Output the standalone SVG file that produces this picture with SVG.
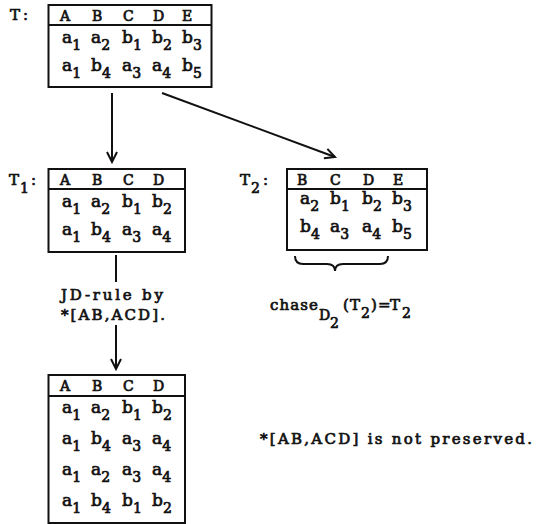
<svg xmlns="http://www.w3.org/2000/svg" width="536" height="524" viewBox="0 0 536 524">
<defs>
<style>
.t{font-family:"DejaVu Serif","Liberation Serif",serif;fill:#111;stroke:#111;stroke-width:0.7}
.h{font-size:14px}
.c{font-size:17px}
.s{font-size:14px}
.b{font-size:15px}
.box{fill:none;stroke:#111;stroke-width:2}
.ln{fill:none;stroke:#111;stroke-width:2}
</style>
<marker id="ah" markerUnits="userSpaceOnUse" markerWidth="14" markerHeight="14" refX="12" refY="7" orient="auto">
<path d="M2,2 L12,7 L2,12" fill="none" stroke="#111" stroke-width="2"/>
</marker>
</defs>
<rect width="536" height="524" fill="#fff"/>

<g id="T">
<text class="t b" x="10" y="20">T</text><text class="t b" x="23" y="20">:</text>
<rect class="box" x="48.5" y="5" width="163" height="82"/>
<line class="ln" x1="48.5" y1="25" x2="211.5" y2="25"/>
<g class="t h"><text x="60" y="21">A</text><text x="92" y="21">B</text><text x="123" y="21">C</text><text x="153" y="21">D</text><text x="182" y="21">E</text></g>
<g class="t c">
<text x="62" y="43">a<tspan class="s" dy="7">1</tspan></text>
<text x="91" y="43">a<tspan class="s" dy="7">2</tspan></text>
<text x="122" y="43">b<tspan class="s" dy="7">1</tspan></text>
<text x="152" y="43">b<tspan class="s" dy="7">2</tspan></text>
<text x="182" y="43">b<tspan class="s" dy="7">3</tspan></text>
<text x="62" y="71">a<tspan class="s" dy="7">1</tspan></text>
<text x="91" y="71">b<tspan class="s" dy="7">4</tspan></text>
<text x="122" y="71">a<tspan class="s" dy="7">3</tspan></text>
<text x="152" y="71">a<tspan class="s" dy="7">4</tspan></text>
<text x="182" y="71">b<tspan class="s" dy="7">5</tspan></text>
</g>
</g>

<g id="T1">
<text class="t b" x="9" y="185">T</text><text class="t s" x="20" y="193">1</text><text class="t b" x="31" y="185">:</text>
<rect class="box" x="48.5" y="169" width="136.5" height="83"/>
<line class="ln" x1="48.5" y1="189" x2="185" y2="189"/>
<g class="t h"><text x="60" y="185">A</text><text x="92" y="185">B</text><text x="123" y="185">C</text><text x="153" y="185">D</text></g>
<g class="t c">
<text x="62" y="207">a<tspan class="s" dy="7">1</tspan></text>
<text x="91" y="207">a<tspan class="s" dy="7">2</tspan></text>
<text x="122" y="207">b<tspan class="s" dy="7">1</tspan></text>
<text x="152" y="207">b<tspan class="s" dy="7">2</tspan></text>
<text x="62" y="235">a<tspan class="s" dy="7">1</tspan></text>
<text x="91" y="235">b<tspan class="s" dy="7">4</tspan></text>
<text x="122" y="235">a<tspan class="s" dy="7">3</tspan></text>
<text x="152" y="235">a<tspan class="s" dy="7">4</tspan></text>
</g>
</g>

<g id="T2">
<text class="t b" x="240" y="185">T</text><text class="t s" x="251" y="193">2</text><text class="t b" x="263" y="185">:</text>
<rect class="box" x="287" y="169" width="140" height="81"/>
<line class="ln" x1="287" y1="189" x2="427" y2="189"/>
<g class="t h"><text x="297" y="185">B</text><text x="330" y="185">C</text><text x="363" y="185">D</text><text x="393" y="185">E</text></g>
<g class="t c">
<text x="300" y="204">a<tspan class="s" dy="7">2</tspan></text>
<text x="330" y="204">b<tspan class="s" dy="7">1</tspan></text>
<text x="362" y="204">b<tspan class="s" dy="7">2</tspan></text>
<text x="392" y="204">b<tspan class="s" dy="7">3</tspan></text>
<text x="300" y="232">b<tspan class="s" dy="7">4</tspan></text>
<text x="330" y="232">a<tspan class="s" dy="7">3</tspan></text>
<text x="362" y="232">a<tspan class="s" dy="7">4</tspan></text>
<text x="392" y="232">b<tspan class="s" dy="7">5</tspan></text>
</g>
</g>

<g id="chase">
<path class="ln" d="M295,256 Q295,264 303,264 L327,264 Q335,264 335,271 Q335,264 343,264 L380,264 Q388,264 388,256"/>
<g class="t b">
<text x="270" y="310" textLength="48" lengthAdjust="spacing">chase</text>
<text class="s" x="319" y="320">D</text>
<text class="s" x="330" y="328">2</text>
<text x="343" y="310">(</text>
<text x="350" y="310">T</text>
<text class="s" x="361" y="318">2</text>
<text x="371" y="310">)</text>
<text x="378" y="310">=</text>
<text x="390" y="310">T</text>
<text class="s" x="402" y="318">2</text>
</g>
</g>

<g id="T3">
<rect class="box" x="48.5" y="375" width="136.5" height="148"/>
<line class="ln" x1="48.5" y1="396" x2="185" y2="396"/>
<g class="t h"><text x="60" y="391">A</text><text x="92" y="391">B</text><text x="123" y="391">C</text><text x="153" y="391">D</text></g>
<g class="t c">
<text x="62" y="413">a<tspan class="s" dy="7">1</tspan></text>
<text x="91" y="413">a<tspan class="s" dy="7">2</tspan></text>
<text x="122" y="413">b<tspan class="s" dy="7">1</tspan></text>
<text x="152" y="413">b<tspan class="s" dy="7">2</tspan></text>
<text x="62" y="444">a<tspan class="s" dy="7">1</tspan></text>
<text x="91" y="444">b<tspan class="s" dy="7">4</tspan></text>
<text x="122" y="444">a<tspan class="s" dy="7">3</tspan></text>
<text x="152" y="444">a<tspan class="s" dy="7">4</tspan></text>
<text x="62" y="475">a<tspan class="s" dy="7">1</tspan></text>
<text x="91" y="475">a<tspan class="s" dy="7">2</tspan></text>
<text x="122" y="475">a<tspan class="s" dy="7">3</tspan></text>
<text x="152" y="475">a<tspan class="s" dy="7">4</tspan></text>
<text x="62" y="506">a<tspan class="s" dy="7">1</tspan></text>
<text x="91" y="506">b<tspan class="s" dy="7">4</tspan></text>
<text x="122" y="506">b<tspan class="s" dy="7">1</tspan></text>
<text x="152" y="506">b<tspan class="s" dy="7">2</tspan></text>
</g>
</g>

<g id="note">
<text class="t b" x="260" y="444" textLength="272" lengthAdjust="spacing">*[AB,ACD] is not preserved.</text>
</g>

<g id="connectors">
<line class="ln" x1="112" y1="93" x2="112" y2="162" marker-end="url(#ah)"/>
<line class="ln" x1="162" y1="93" x2="335" y2="157" marker-end="url(#ah)"/>
<line class="ln" x1="116" y1="255" x2="116" y2="282"/>
<line class="ln" x1="116" y1="325" x2="116" y2="369" marker-end="url(#ah)"/>
</g>

<g id="jd-label">
<text class="t b" x="61" y="300" textLength="102" lengthAdjust="spacing">JD-rule by</text>
<text class="t b" x="61" y="320" textLength="104" lengthAdjust="spacing">*[AB,ACD].</text>
</g>
</svg>
